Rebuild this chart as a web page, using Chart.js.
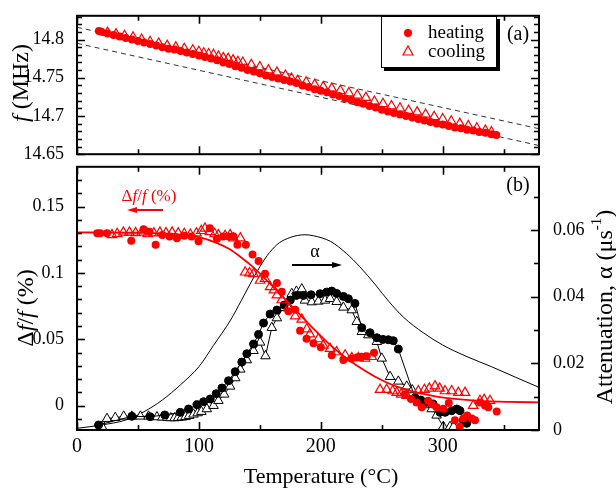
<!DOCTYPE html>
<html>
<head>
<meta charset="utf-8">
<script src="https://cdn.jsdelivr.net/npm/chart.js@4.4.1/dist/chart.umd.min.js"></script>
<style>
  body { margin: 0; background: #fff; }
  #wrap { position: relative; width: 616px; height: 494px; }
  canvas { position: absolute; left: 0; }
  #bot { top: 150px; }
  #top { top: 0; }
</style>
</head>
<body>
<div id="wrap">
  <canvas id="bot" width="616" height="344"></canvas>
  <canvas id="top" width="616" height="170"></canvas>
</div>
<script>
// ---- panel (a): resonance frequency ----
const heatT = [18, 20, 25, 30, 35, 40, 45, 50, 55, 60, 65, 70, 75, 80, 85, 90, 95, 100, 105, 110, 115, 120, 125, 130, 135, 140, 145, 150, 155, 160, 165, 170, 175, 180, 185, 190, 195, 200, 205, 210, 215, 220, 225, 230, 235, 240, 245, 250, 255, 260, 265, 270, 275, 280, 285, 290, 295, 300, 305, 310, 315, 320, 325, 330, 335, 340, 344];
const heatF = [14.811, 14.810, 14.808, 14.806, 14.804, 14.802, 14.800, 14.798, 14.796, 14.794, 14.792, 14.790, 14.788, 14.787, 14.785, 14.783, 14.781, 14.779, 14.777, 14.775, 14.773, 14.770, 14.768, 14.765, 14.763, 14.760, 14.758, 14.756, 14.753, 14.751, 14.749, 14.747, 14.745, 14.743, 14.740, 14.738, 14.735, 14.733, 14.731, 14.728, 14.726, 14.723, 14.721, 14.718, 14.716, 14.713, 14.711, 14.708, 14.706, 14.704, 14.702, 14.700, 14.698, 14.696, 14.694, 14.692, 14.690, 14.689, 14.687, 14.685, 14.684, 14.682, 14.681, 14.679, 14.678, 14.676, 14.675];
const coolT = [25, 32, 39, 46, 53, 60, 67, 74, 81, 88, 95, 100, 104, 108, 112, 116, 120, 124, 128, 132, 136, 143, 150, 157, 164, 171, 176, 181, 188, 195, 202, 209, 216, 223, 230, 237, 244, 251, 258, 265, 272, 279, 286, 293, 300, 307, 314, 321, 328, 335, 340];
const coolF = [14.809, 14.807, 14.805, 14.803, 14.800, 14.797, 14.795, 14.792, 14.790, 14.788, 14.786, 14.784, 14.782, 14.781, 14.780, 14.778, 14.776, 14.775, 14.773, 14.771, 14.770, 14.767, 14.764, 14.760, 14.757, 14.753, 14.749, 14.746, 14.744, 14.741, 14.738, 14.736, 14.733, 14.730, 14.727, 14.724, 14.719, 14.716, 14.713, 14.710, 14.707, 14.705, 14.702, 14.699, 14.696, 14.693, 14.690, 14.687, 14.684, 14.681, 14.679];
const guideT = [0, 380];
const guideUpper = [14.816, 14.683];
const guideLower = [14.795, 14.661];

// ---- panel (b): relative frequency shift and attenuation ----
const dfHeatT = [16.6, 19, 24.6, 44.5, 54.6, 59.5, 64.5, 70, 76, 82, 88, 94, 99.7, 109, 114.8, 120, 124.3, 128.4, 131.6, 138.5, 144, 149, 154.3, 164, 168, 173.4, 179, 183, 188.3, 194, 200, 209, 218.5, 225, 230, 233.6, 237.7, 243.7, 269, 274, 278.7, 282.8, 288, 291, 295, 300.5, 305, 310, 314, 316.9, 320, 323.8, 326.5, 330.6, 334.7, 337.4, 344.3];
const dfHeatV = [0.130, 0.130, 0.130, 0.1243, 0.1329, 0.131, 0.1213, 0.1285, 0.1275, 0.1262, 0.128, 0.1275, 0.1238, 0.1336, 0.1257, 0.1275, 0.1275, 0.1274, 0.1213, 0.1213, 0.1138, 0.109, 0.0993, 0.0924, 0.0858, 0.0711, 0.0723, 0.0564, 0.0504, 0.047, 0.044, 0.038, 0.0343, 0.0355, 0.0365, 0.0368, 0.0372, 0.0398, 0.0086, 0.005, 0.0024, -0.0012, 0.0037, 0.001, -0.0012, -0.0024, 0.002, -0.011, -0.016, -0.0098, -0.0075, -0.0098, -0.011, 0.0024, 0.0, -0.0012, -0.0044];
const dfCoolT = [28.7, 33, 38, 43, 48, 53, 58, 63, 68, 73, 78, 83, 88, 93, 98, 102, 105, 109, 113, 116, 121.5, 125.6, 128.4, 134, 138, 141.5, 144.8, 150.2, 154.3, 158.4, 161.5, 164, 168, 173.4, 179, 184.4, 188.5, 191, 198, 202, 207.6, 213, 220, 225.4, 230.8, 236.3, 241.8, 248.6, 254, 259, 262.3, 266, 270.5, 280, 285, 289, 293.7, 297.5, 301.9, 307.4, 312.8, 318.3, 325, 330.6, 334, 338.8];
const dfCoolV = [0.1287, 0.1295, 0.1306, 0.1306, 0.1302, 0.1306, 0.1295, 0.13, 0.1306, 0.1302, 0.1306, 0.13, 0.1295, 0.129, 0.13, 0.1318, 0.1336, 0.131, 0.1295, 0.1287, 0.128, 0.1287, 0.1262, 0.1262, 0.1005, 0.0999, 0.0993, 0.0943, 0.0956, 0.0895, 0.087, 0.0833, 0.0796, 0.0735, 0.0674, 0.065, 0.0576, 0.0539, 0.0502, 0.0454, 0.0429, 0.0404, 0.038, 0.036, 0.036, 0.0355, 0.0368, 0.012, 0.012, 0.011, 0.0098, 0.0085, 0.0074, 0.011, 0.012, 0.013, 0.0147, 0.013, 0.011, 0.011, 0.0098, 0.0098, 0.0, 0.0037, 0.0045, 0.0037];
const fitT = [0, 50, 80, 100, 115, 125, 135, 145, 155, 165, 175, 185, 195, 205, 215, 225, 235, 245, 255, 265, 280, 295, 310, 330, 355, 380];
const fitV = [0.1305, 0.1303, 0.1295, 0.127, 0.1225, 0.118, 0.1115, 0.104, 0.095, 0.086, 0.076, 0.0665, 0.057, 0.048, 0.040, 0.033, 0.027, 0.0215, 0.017, 0.0135, 0.0095, 0.0068, 0.005, 0.0036, 0.0028, 0.0024];
const attHeatT = [17.7, 45, 60, 72, 84.7, 91.5, 98.4, 103.8, 109.3, 114.2, 118.9, 124.3, 129.8, 135.2, 139.3, 144.8, 148.9, 153, 158.4, 164, 170, 175, 180, 185.7, 192, 199.4, 205, 209, 213, 218.5, 222.6, 228, 233.6, 240.4, 246, 251, 255.4, 259.5, 263.6, 277.3, 282, 286.7, 292, 297.8, 302, 307.4, 311.5, 314.2, 316.9, 319.7];
const attHeatV = [0.0015, 0.0041, 0.0040, 0.0045, 0.0053, 0.0063, 0.0076, 0.0085, 0.0093, 0.0109, 0.0126, 0.0148, 0.0175, 0.0204, 0.0229, 0.0258, 0.0287, 0.0321, 0.0348, 0.036, 0.0375, 0.039, 0.0404, 0.0404, 0.0406, 0.0409, 0.0414, 0.0417, 0.041, 0.0401, 0.0394, 0.038, 0.0307, 0.0292, 0.0277, 0.0272, 0.0271, 0.0268, 0.0243, 0.0097, 0.009, 0.0083, 0.0078, 0.0053, 0.0053, 0.0058, 0.0063, 0.0058, 0.0029, 0.002];
const attCoolT = [20.5, 24.6, 31.4, 38.3, 45, 52, 58.7, 65.6, 70, 74, 77, 80, 83, 86, 89, 92, 95.6, 99, 102, 106.5, 112, 116, 120.7, 125.6, 129.8, 133.9, 139.3, 144.8, 150.2, 154.6, 159.8, 164, 169.3, 176.2, 180, 184.4, 187, 192.6, 198, 203.5, 207.6, 213, 218.5, 225.4, 229.5, 233.6, 239, 246, 250, 256.8, 263.6, 270.5, 275, 280, 285, 291, 295, 300.5, 306, 309];
const attCoolV = [0.001, 0.0034, 0.0037, 0.0041, 0.0041, 0.0041, 0.0041, 0.0039, 0.0038, 0.0037, 0.0036, 0.0036, 0.0037, 0.0038, 0.004, 0.0043, 0.0047, 0.0051, 0.0055, 0.0063, 0.0073, 0.0088, 0.0107, 0.0131, 0.0156, 0.0182, 0.021, 0.0238, 0.0263, 0.0222, 0.0307, 0.0336, 0.0367, 0.0409, 0.0416, 0.0423, 0.0389, 0.0384, 0.0386, 0.0389, 0.0394, 0.0385, 0.0368, 0.036, 0.0325, 0.0295, 0.0285, 0.0265, 0.0215, 0.016, 0.0146, 0.0131, 0.012, 0.0083, 0.0075, 0.0063, 0.0044, 0.001, 0.001, 0.001];
const curveT = [0, 20, 40, 55, 70, 85, 100, 112, 126, 135, 142, 150, 158, 166, 175, 181, 187, 194, 208, 221, 232, 245, 256, 268, 284, 300, 320, 340, 360, 379];
const curveV = [0.0005, 0.0015, 0.003, 0.0055, 0.009, 0.0136, 0.019, 0.0254, 0.033, 0.039, 0.0438, 0.049, 0.0533, 0.0562, 0.0578, 0.0584, 0.0586, 0.0583, 0.0566, 0.053, 0.049, 0.0435, 0.0385, 0.0338, 0.0292, 0.0255, 0.022, 0.019, 0.0158, 0.0128];

// tick labels
const tempTicks = [0, 100, 200, 300];
const freqTicks = [14.65, 14.7, 14.75, 14.8];
const shiftTicks = [0, 0.05, 0.1, 0.15];
const attTicks = [0, 0.02, 0.04, 0.06];

const SERIF = '"Liberation Serif", "Times New Roman", serif';
const RED = 'rgb(255,0,0)';

const pts = (xs, ys) => xs.map((x, i) => ({ x: x, y: ys[i] }));
const fixedTicks = list => axis => { axis.ticks = list.map(v => ({ value: v })); };

// frame around the plot and inward tick marks (major + minor)
function frameTicks(list) {
  return {
    id: 'frameTicks',
    afterDraw(chart) {
      const ctx = chart.ctx, a = chart.chartArea;
      ctx.save();
      ctx.strokeStyle = '#000';
      ctx.lineWidth = 1.6;
      list.forEach(t => {
        const s = chart.scales[t.scale];
        const n = Math.round((t.to - t.from) / t.minor);
        for (let k = 0; k <= n; k++) {
          const v = t.from + k * t.minor;
          const q = v / t.major;
          const len = Math.abs(q - Math.round(q)) < 1e-6 ? 8 : 5;
          const p = Math.round(s.getPixelForValue(v)) + 0.5;
          ctx.beginPath();
          t.sides.forEach(side => {
            if (side === 'bottom') { ctx.moveTo(p, a.bottom); ctx.lineTo(p, a.bottom - len); }
            if (side === 'top') { ctx.moveTo(p, a.top); ctx.lineTo(p, a.top + len); }
            if (side === 'left') { ctx.moveTo(a.left, p); ctx.lineTo(a.left + len, p); }
            if (side === 'right') { ctx.moveTo(a.right, p); ctx.lineTo(a.right - len, p); }
          });
          ctx.stroke();
        }
      });
      ctx.lineWidth = 2;
      ctx.strokeRect(a.left, a.top, a.right - a.left, a.bottom - a.top);
      ctx.restore();
    }
  };
}

function drawRich(ctx, parts, x, y, rot, align) {
  ctx.save();
  ctx.translate(x, y);
  if (rot) ctx.rotate(rot);
  ctx.textBaseline = 'middle';
  let w = 0;
  parts.forEach(p => { ctx.font = p.font; w += ctx.measureText(p.text).width; });
  let cx = align === 'left' ? 0 : -w / 2;
  parts.forEach(p => {
    ctx.font = p.font;
    ctx.fillStyle = p.color || '#000';
    ctx.fillText(p.text, cx, p.dy || 0);
    cx += ctx.measureText(p.text).width;
  });
  ctx.restore();
}

function arrow(ctx, x1, y1, x2, y2, color, width) {
  ctx.save();
  ctx.strokeStyle = color; ctx.fillStyle = color; ctx.lineWidth = width;
  const dir = Math.sign(x2 - x1);
  ctx.beginPath(); ctx.moveTo(x1, y1); ctx.lineTo(x2 - dir * 8, y2); ctx.stroke();
  ctx.beginPath();
  ctx.moveTo(x2, y2); ctx.lineTo(x2 - dir * 10, y2 - 3); ctx.lineTo(x2 - dir * 10, y2 + 3);
  ctx.closePath(); ctx.fill();
  ctx.restore();
}

const f = (size, style) => (style || '') + ' ' + size + 'px ' + SERIF;

const topText = {
  id: 'topText',
  afterDraw(chart) {
    const ctx = chart.ctx;
    drawRich(ctx, [{ text: 'f', font: f(24, 'italic') }, { text: ' (MHz)', font: f(24) }], 22, 83, -Math.PI / 2);
    drawRich(ctx, [{ text: '(a)', font: f(20) }], 518, 35);
    // legend box with shadow
    ctx.save();
    ctx.fillStyle = '#000';
    ctx.fillRect(384, 19, 116, 52);
    ctx.fillStyle = '#fff';
    ctx.fillRect(381, 16, 116, 52);
    ctx.strokeStyle = '#000'; ctx.lineWidth = 1;
    ctx.strokeRect(381.5, 16.5, 115, 51);
    ctx.fillStyle = RED;
    ctx.beginPath(); ctx.arc(408, 33, 4, 0, Math.PI * 2); ctx.fill();
    ctx.strokeStyle = RED; ctx.lineWidth = 1.2;
    ctx.beginPath(); ctx.moveTo(408, 46); ctx.lineTo(413, 55); ctx.lineTo(403, 55); ctx.closePath(); ctx.stroke();
    ctx.restore();
    drawRich(ctx, [{ text: 'heating', font: f(19) }], 428, 33, 0, 'left');
    drawRich(ctx, [{ text: 'cooling', font: f(19) }], 428, 52, 0, 'left');
  }
};

const botText = {
  id: 'botText',
  afterDraw(chart) {
    const ctx = chart.ctx;
    drawRich(ctx, [
      { text: 'Δ', font: f(24) }, { text: 'f', font: f(24, 'italic') }, { text: '/', font: f(24) },
      { text: 'f', font: f(24, 'italic') }, { text: ' (%)', font: f(24) }
    ], 27, 158, -Math.PI / 2);
    drawRich(ctx, [
      { text: 'Attenuation, α (μs', font: f(24) }, { text: '-1', font: f(15), dy: -9 }, { text: ')', font: f(24) }
    ], 606, 157, -Math.PI / 2);
    drawRich(ctx, [{ text: 'Temperature (°C)', font: f(22) }], 321, 327);
    drawRich(ctx, [{ text: '(b)', font: f(20) }], 518, 36);
    drawRich(ctx, [
      { text: 'Δ', font: f(17), color: RED }, { text: 'f', font: f(17, 'italic'), color: RED },
      { text: '/', font: f(17), color: RED }, { text: 'f', font: f(17, 'italic'), color: RED },
      { text: ' (%)', font: f(17), color: RED }
    ], 149, 47);
    arrow(ctx, 163, 60, 127, 60, RED, 2);
    drawRich(ctx, [{ text: 'α', font: f(18) }], 315, 102);
    arrow(ctx, 292, 115, 342, 115, '#000', 2);
  }
};

const tickFont = size => ({ family: SERIF, size: size });

new Chart(document.getElementById('top'), {
  type: 'scatter',
  data: {
    datasets: [
      { data: pts(coolT, coolF), pointStyle: 'triangle', pointRadius: 5.5, borderColor: RED, backgroundColor: 'rgba(0,0,0,0)', borderWidth: 1.2 },
      { data: pts(heatT, heatF), pointStyle: 'circle', pointRadius: 4, borderColor: RED, backgroundColor: RED, borderWidth: 0 },
      { data: pts(guideT, guideUpper), showLine: true, pointRadius: 0, borderColor: '#333', borderWidth: 1, borderDash: [5, 4] },
      { data: pts(guideT, guideLower), showLine: true, pointRadius: 0, borderColor: '#333', borderWidth: 1, borderDash: [5, 4] }
    ]
  },
  options: {
    responsive: false,
    animation: false,
    layout: { padding: { top: 9, left: 0, right: 77, bottom: 10 } },
    plugins: { legend: { display: false }, tooltip: { enabled: false } },
    scales: {
      x: { type: 'linear', min: 0, max: 379, display: false },
      y: {
        min: 14.65, max: 14.831,
        afterBuildTicks: fixedTicks(freqTicks),
        afterFit: s => { s.width = 77; },
        grid: { display: false }, border: { display: false },
        ticks: { font: tickFont(18), color: '#000', padding: 5, callback: v => String(v) }
      }
    }
  },
  plugins: [frameTicks([
    { scale: 'x', from: 0, to: 350, minor: 50, major: 100, sides: ['top', 'bottom'] },
    { scale: 'y', from: 14.65, to: 14.83, minor: 0.01, major: 0.05, sides: ['left', 'right'] }
  ]), topText]
});

new Chart(document.getElementById('bot'), {
  type: 'scatter',
  data: {
    datasets: [
      { data: pts(dfHeatT, dfHeatV), yAxisID: 'y', pointStyle: 'circle', pointRadius: 4, borderColor: RED, backgroundColor: RED, borderWidth: 0 },
      { data: pts(dfCoolT, dfCoolV), yAxisID: 'y', pointStyle: 'triangle', pointRadius: 5.5, borderColor: RED, backgroundColor: 'rgba(0,0,0,0)', borderWidth: 1.2 },
      { data: pts(fitT, fitV), yAxisID: 'y', showLine: true, pointRadius: 0, borderColor: RED, borderWidth: 1.8, cubicInterpolationMode: 'monotone' },
      { data: pts(attHeatT, attHeatV), yAxisID: 'y2', showLine: true, pointStyle: 'circle', pointRadius: 4, borderColor: '#000', backgroundColor: '#000', borderWidth: 1 },
      { data: pts(attCoolT, attCoolV), yAxisID: 'y2', showLine: true, pointStyle: 'triangle', pointRadius: 5.5, borderColor: '#000', backgroundColor: '#fff', borderWidth: 1 },
      { data: pts(curveT, curveV), yAxisID: 'y2', showLine: true, pointRadius: 0, borderColor: '#000', borderWidth: 1, cubicInterpolationMode: 'monotone' }
    ]
  },
  options: {
    responsive: false,
    animation: false,
    layout: { padding: { top: 10, left: 0, right: 0, bottom: 0 } },
    plugins: { legend: { display: false }, tooltip: { enabled: false } },
    scales: {
      x: {
        type: 'linear', min: 0, max: 379,
        afterBuildTicks: fixedTicks(tempTicks),
        afterFit: s => { s.height = 64; },
        grid: { display: false }, border: { display: false },
        ticks: { font: tickFont(20), color: '#000', padding: -3, maxRotation: 0, autoSkip: false, callback: v => String(v) }
      },
      y: {
        position: 'left', min: -0.0184, max: 0.18,
        afterBuildTicks: fixedTicks(shiftTicks),
        afterFit: s => { s.width = 77; },
        grid: { display: false }, border: { display: false },
        ticks: { font: tickFont(18), color: '#000', padding: 5, callback: v => String(v) }
      },
      y2: {
        position: 'right', min: 0, max: 0.079,
        afterBuildTicks: fixedTicks(attTicks),
        afterFit: s => { s.width = 77; },
        grid: { display: false }, border: { display: false },
        ticks: { font: tickFont(18), color: '#000', padding: 6, callback: v => String(v) }
      }
    }
  },
  plugins: [frameTicks([
    { scale: 'x', from: 0, to: 350, minor: 50, major: 100, sides: ['top', 'bottom'] },
    { scale: 'y', from: -0.01, to: 0.17, minor: 0.01, major: 0.05, sides: ['left'] },
    { scale: 'y2', from: 0, to: 0.07, minor: 0.01, major: 0.02, sides: ['right'] }
  ]), botText]
});
</script>
</body>
</html>
